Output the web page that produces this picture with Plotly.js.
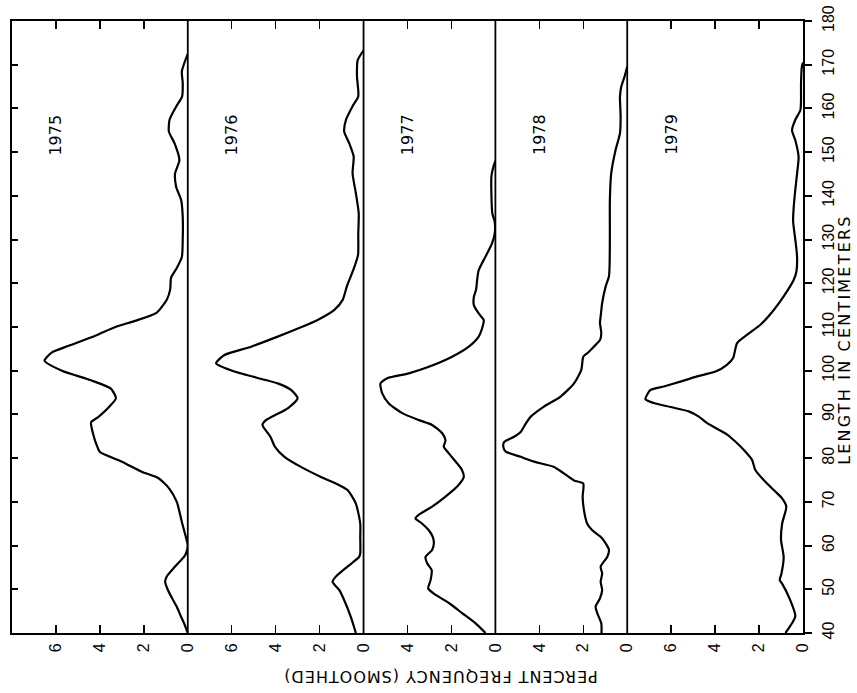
<!DOCTYPE html>
<html>
<head>
<meta charset="utf-8">
<script src="https://cdn.plot.ly/plotly-3.0.1.min.js"></script>
<style>
  html, body { margin: 0; padding: 0; background: #fff; }
  #chart { width: 857px; height: 693px; }
  /* wide lettering for the two axis titles */
  .annotation[data-index="5"] text { letter-spacing: 1px; }
  .annotation[data-index="6"] text { letter-spacing: 2.2px; }
</style>
</head>
<body>
<div id="chart"></div>
<script>
// Smoothed length-frequency distributions, one panel per year.
const years = ['1975', '1976', '1977', '1978', '1979'];

const len1975 = [40, 42, 44, 46, 48, 50, 51.7, 53, 55.2, 57.8, 60, 62, 65.4, 70, 73.1, 75.4, 76.9, 79.2, 81.4, 82.9, 85.2, 88.2, 89.5, 92, 93.7, 95.9, 97.8, 100, 102.3, 104.2, 105.7, 108, 110, 111.4, 113.3, 116.3, 118.6, 121.3, 123.5, 126, 130, 135.2, 139, 142.1, 145.1, 148.2, 152, 154.7, 157.4, 160.4, 162.7, 165.8, 168.5, 172.5];
const freq1975 = [0.0, 0.15, 0.33, 0.5, 0.72, 0.92, 1.03, 0.95, 0.58, 0.12, 0.0, 0.09, 0.27, 0.5, 0.85, 1.33, 2.1, 3.0, 4.0, 4.14, 4.29, 4.4, 4.05, 3.53, 3.27, 3.5, 4.4, 5.73, 6.52, 6.18, 5.42, 4.21, 3.3, 2.4, 1.41, 0.95, 0.8, 0.76, 0.5, 0.27, 0.23, 0.23, 0.3, 0.53, 0.58, 0.38, 0.6, 0.86, 0.83, 0.53, 0.26, 0.23, 0.27, 0.0];

const len1976 = [40, 43.7, 47.5, 49.8, 51.7, 52.9, 55.2, 57.4, 58.2, 62, 65, 69.6, 72.7, 74.2, 75.7, 78, 80.3, 82.6, 84.9, 87.6, 88.7, 91.4, 93.7, 95.6, 97.1, 99.8, 101.7, 103.6, 105.5, 107.8, 110.1, 111.6, 113.9, 116.2, 119.3, 121.6, 124, 126.5, 131.4, 136, 140.6, 145.1, 149, 152, 154.7, 157.4, 160.5, 162.8, 167.4, 171, 173.3];
const freq1976 = [0.35, 0.58, 0.88, 1.1, 1.41, 1.26, 0.73, 0.2, 0.15, 0.15, 0.15, 0.35, 0.73, 1.26, 1.94, 2.85, 3.6, 4.03, 4.24, 4.6, 4.44, 3.45, 3.0, 3.3, 3.91, 5.88, 6.71, 6.33, 5.12, 3.91, 2.77, 2.09, 1.33, 0.95, 0.76, 0.58, 0.4, 0.25, 0.24, 0.22, 0.35, 0.5, 0.45, 0.65, 0.88, 0.8, 0.5, 0.24, 0.3, 0.27, 0.0];

const len1977 = [40, 42.2, 44.5, 46.8, 49, 50.2, 52.1, 54.4, 55.9, 57.4, 59, 60.5, 62, 63.5, 65, 66.2, 67, 68.9, 71.2, 73.5, 75.7, 77.3, 78.8, 81.1, 82.6, 84.1, 85.7, 87.6, 88.7, 90.3, 92.5, 94.8, 97.1, 98.3, 99.4, 100.9, 103.2, 105.5, 107.8, 110.1, 111.6, 113.1, 115, 116.9, 118.5, 120.8, 123, 126.1, 129.2, 131.4, 134, 136, 140, 144.5, 146.5, 148];
const freq1977 = [0.45, 0.9, 1.5, 2.1, 2.8, 3.06, 2.95, 2.9, 3.1, 3.18, 2.88, 2.8, 2.85, 3.03, 3.33, 3.64, 3.5, 2.88, 2.27, 1.74, 1.44, 1.52, 1.74, 2.12, 2.35, 2.27, 2.42, 2.88, 3.48, 4.24, 4.85, 5.15, 5.23, 4.92, 3.94, 3.03, 1.97, 1.21, 0.76, 0.58, 0.53, 0.76, 0.98, 0.98, 0.88, 0.83, 0.76, 0.45, 0.15, 0.03, 0.03, 0.14, 0.18, 0.18, 0.1, 0.0];

const len1978 = [40, 42.2, 44.5, 46, 47.9, 49.8, 51.7, 53.6, 55.2, 57.4, 59, 60.5, 62, 63.5, 65, 68.1, 71.2, 74.2, 74.9, 76.5, 78, 79.2, 80.3, 81.5, 82.6, 83.7, 84.9, 86, 87.9, 89.5, 91.8, 94.1, 97.1, 100.2, 103.2, 104, 105.5, 107, 108.6, 110.9, 112.4, 115.5, 119.3, 121.6, 124.7, 131.4, 139, 145.1, 150.5, 154.3, 158.1, 162.7, 165, 167.3, 169.6];
const freq1978 = [1.17, 1.18, 1.36, 1.44, 1.24, 1.14, 1.21, 1.14, 1.21, 0.91, 0.83, 0.98, 1.21, 1.59, 1.82, 1.97, 2.03, 2.0, 2.42, 2.88, 3.33, 4.24, 4.85, 5.53, 5.64, 5.6, 5.15, 4.85, 4.62, 4.39, 3.79, 3.03, 2.42, 2.09, 2.0, 1.82, 1.52, 1.24, 1.18, 1.24, 1.21, 1.14, 0.98, 0.83, 0.8, 0.79, 0.79, 0.73, 0.53, 0.33, 0.3, 0.33, 0.27, 0.12, 0.0];

const len1979 = [40, 43.8, 47.5, 51.3, 52.1, 53.6, 57.4, 61.3, 65, 68.9, 70.8, 72.7, 75, 77.3, 79.6, 81.9, 83.8, 85.4, 88, 89.5, 90.7, 91.7, 92.6, 93.5, 95.6, 96.4, 97.5, 98.7, 99.8, 101.4, 102.9, 106.3, 108.2, 110.5, 113.9, 117, 120.8, 122.7, 126.1, 130, 134.2, 137.6, 141.4, 145.1, 148.9, 152.7, 155, 157.4, 159.6, 161.9, 165.7, 169.6, 170.5];
const freq1979 = [0.8, 0.35, 0.58, 0.95, 1.06, 0.98, 0.88, 1.0, 0.95, 0.76, 0.95, 1.33, 1.79, 2.17, 2.32, 2.7, 3.08, 3.45, 4.36, 4.74, 5.2, 6.03, 6.79, 7.17, 6.94, 6.33, 5.58, 4.82, 3.98, 3.45, 3.18, 3.0, 2.55, 1.94, 1.33, 0.88, 0.42, 0.3, 0.27, 0.35, 0.45, 0.42, 0.35, 0.27, 0.2, 0.35, 0.5, 0.35, 0.12, 0.09, 0.09, 0.05, 0.0];

// Axis scales and tick labels
const freqMax = [8, 8, 6, 6, 8];
const freqTicks = [[0, 2, 4, 6], [0, 2, 4, 6], [0, 2, 4], [0, 2, 4], [0, 2, 4, 6]];
const lengthRange = [40, 180];
const lengthTicks = [40, 50, 60, 70, 80, 90, 100, 110, 120, 130, 140, 150, 160, 170, 180];

const lengths = [len1975, len1976, len1977, len1978, len1979];
const freqs = [freq1975, freq1976, freq1977, freq1978, freq1979];

const INK = '#000';
const tickFont = { family: 'Liberation Sans, Arial, sans-serif', size: 16, color: INK };

// Panel widths follow each panel's frequency span
const total = freqMax.reduce((a, b) => a + b, 0);
let acc = 0;
const domains = freqMax.map(m => { const d = [acc / total, (acc + m) / total]; acc += m; return d; });

const traces = years.map((yr, i) => ({
  type: 'scatter',
  mode: 'lines',
  x: freqs[i],
  y: lengths[i],
  xaxis: i === 0 ? 'x' : 'x' + (i + 1),
  yaxis: i === 4 ? 'y2' : 'y',
  line: { color: INK, width: 2.2, shape: 'spline', smoothing: 0.6 },
  hoverinfo: 'skip',
  showlegend: false
}));

const layout = {
  width: 857, height: 693,
  margin: { l: 12, r: 54, t: 21, b: 60 },
  paper_bgcolor: '#fff', plot_bgcolor: '#fff',
  font: { family: 'DejaVu Sans, sans-serif', color: INK },
  showlegend: false,
  yaxis: {
    range: lengthRange, anchor: 'x', side: 'left',
    tickvals: lengthTicks, ticks: 'inside', ticklen: 6, tickwidth: 2, tickcolor: INK,
    showticklabels: false, showline: true, linewidth: 2, linecolor: INK,
    showgrid: false, zeroline: false, fixedrange: true
  },
  yaxis2: {
    range: lengthRange, anchor: 'x5', side: 'right', overlaying: 'y',
    tickvals: lengthTicks, ticks: 'outside', ticklen: 7, tickwidth: 2, tickcolor: INK,
    tickangle: -90, tickfont: tickFont, ticklabelstandoff: 3,
    showline: true, linewidth: 2, linecolor: INK,
    showgrid: false, zeroline: false, fixedrange: true
  },
  annotations: [],
  shapes: []
};

years.forEach((yr, i) => {
  const key = i === 0 ? 'xaxis' : 'xaxis' + (i + 1);
  const ref = i === 0 ? 'x' : 'x' + (i + 1);
  layout[key] = {
    domain: domains[i], anchor: i === 4 ? 'y2' : 'y',
    range: [freqMax[i], 0],
    tickvals: freqTicks[i], ticktext: freqTicks[i].map(String),
    ticks: 'inside', ticklen: 8, tickwidth: 1.5, tickcolor: INK,
    tickangle: -90, tickfont: tickFont, ticklabelstandoff: 2,
    showline: true, linewidth: 2, linecolor: INK, mirror: 'ticks',
    showgrid: false, zeroline: false, fixedrange: true
  };
  // zero-frequency baseline separating each panel from the next
  if (i < 4) {
    layout.shapes.push({
      type: 'line', xref: 'paper', yref: 'paper',
      x0: domains[i][1], x1: domains[i][1], y0: 0, y1: 1,
      layer: 'above', line: { color: INK, width: 1.8 }
    });
  }
  layout.annotations.push({
    text: yr, xref: ref, yref: 'y', x: freqMax[i] === 8 ? 6 : 4, y: 154,
    textangle: -90, showarrow: false,
    font: { family: 'DejaVu Sans, sans-serif', size: 16, color: INK }
  });
});

layout.annotations.push({
  text: 'PERCENT FREQUENCY (SMOOTHED)',
  xref: 'paper', yref: 'paper', x: 0.541, y: -0.0719,
  xanchor: 'center', yanchor: 'middle',
  textangle: 180, showarrow: false,
  font: { family: 'DejaVu Sans, sans-serif', size: 16, color: INK }
});
layout.annotations.push({
  text: 'LENGTH IN CENTIMETERS',
  xref: 'paper', yref: 'paper', x: 1.053, y: 0.479,
  xanchor: 'center', yanchor: 'middle',
  textangle: -90, showarrow: false,
  font: { family: 'DejaVu Sans, sans-serif', size: 16, color: INK }
});

Plotly.newPlot('chart', traces, layout, { staticPlot: true, displayModeBar: false });
</script>
</body>
</html>
